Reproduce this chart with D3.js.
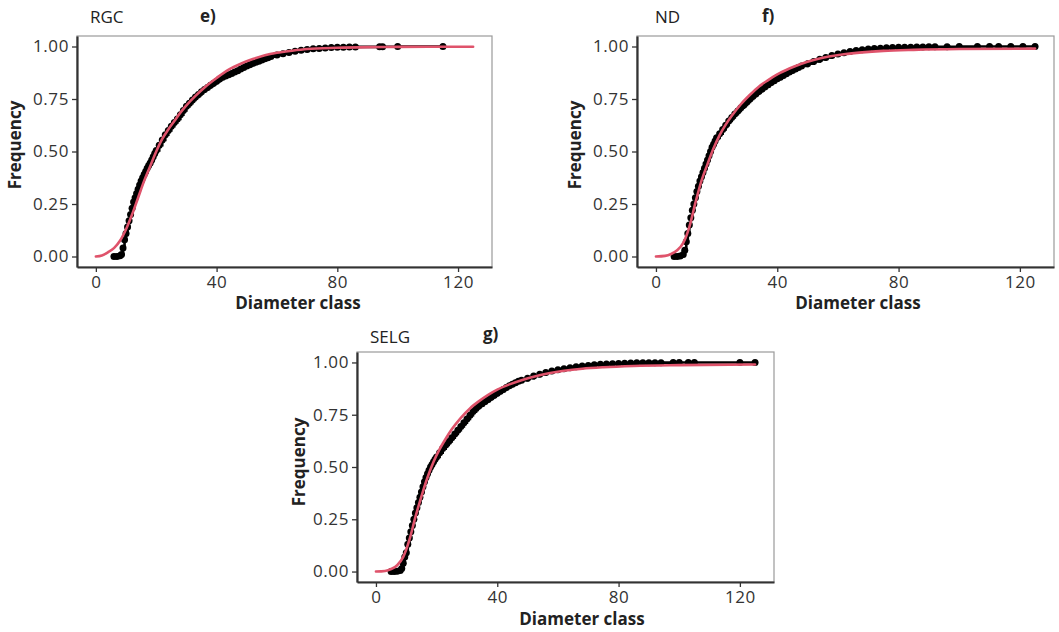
<!DOCTYPE html>
<html>
<head>
<meta charset="utf-8">
<script src="https://cdn.jsdelivr.net/npm/d3@7"></script>
<style>
  body { margin: 0; background: #fff; }
  svg { display: block; }
  text { font-family: "Open Sans", "DejaVu Sans", sans-serif; }
</style>
</head>
<body>
<div id="chart"></div>
<script>
// tick labels
var xTicks = [0, 40, 80, 120];
var yTicks = [0, 0.25, 0.5, 0.75, 1];

// e) RGC - empirical cumulative frequency
var diamE = [6, 7, 8, 8.5, 9, 9.5, 10, 10.5, 11, 11.5, 12, 12.5, 13, 13.5, 14, 14.5, 15, 15.5, 16, 16.5,
  17, 17.5, 18, 18.5, 19, 19.5, 20, 21, 22, 23, 24, 25, 26, 27, 28, 29, 30, 31, 32, 33, 34, 35, 36, 37,
  38, 39, 40, 41, 42, 43, 44, 45, 46, 47, 48, 49, 50, 51, 52, 53, 54, 55, 56, 57, 58, 60, 62, 64, 66, 68,
  70, 72, 74, 76, 78, 80, 82, 84, 86, 94, 95, 100, 115];
var freqE = [0, 0, 0.003, 0.01, 0.04, 0.08, 0.11, 0.14, 0.17, 0.2, 0.23, 0.26, 0.28, 0.3, 0.32, 0.34, 0.36, 0.375, 0.39, 0.405,
  0.42, 0.433, 0.445, 0.46, 0.475, 0.49, 0.505, 0.53, 0.555, 0.58, 0.6, 0.62, 0.638, 0.655, 0.675, 0.695, 0.715, 0.73, 0.745, 0.76, 0.772, 0.785, 0.795, 0.805,
  0.815, 0.825, 0.835, 0.845, 0.853, 0.86, 0.866, 0.872, 0.878, 0.885, 0.893, 0.9, 0.907, 0.913, 0.919, 0.925, 0.93, 0.936, 0.942, 0.947, 0.952, 0.96, 0.966, 0.972, 0.977, 0.982,
  0.986, 0.989, 0.991, 0.993, 0.995, 0.996, 0.997, 0.998, 0.998, 0.999, 0.999, 0.9995, 1];
// e) fitted curve
var fitDiamE = [0, 2, 4, 6, 8, 10, 12, 14, 16, 18, 20, 22, 24, 26, 28, 30, 33, 36, 40, 44, 48, 52, 56, 60, 65, 70, 80, 90, 100, 125];
var fitFreqE = [0, 0.005, 0.02, 0.04, 0.075, 0.13, 0.2, 0.28, 0.36, 0.43, 0.5, 0.56, 0.605, 0.645, 0.685, 0.72, 0.765, 0.805, 0.85, 0.89,
  0.918, 0.94, 0.958, 0.97, 0.98, 0.988, 0.994, 0.997, 0.998, 0.999];

// f) ND
var diamF = [6, 7, 8, 9, 9.5, 10, 10.5, 11, 11.5, 12, 12.5, 13, 13.5, 14, 14.5, 15, 15.5, 16, 16.5, 17, 17.5, 18, 18.5,
  19, 19.5, 20, 21, 22, 23, 24, 25, 26, 27, 28, 29, 30, 31, 32, 33, 34, 35, 36, 37, 38, 39, 40, 41, 42, 43, 44, 45, 46,
  47, 48, 50, 52, 54, 56, 58, 60, 62, 64, 66, 68, 70, 72, 74, 76, 78, 80, 82, 84, 86, 88, 90, 92, 96, 100, 106, 110,
  113, 117, 121, 125];
var freqF = [0, 0, 0.002, 0.01, 0.03, 0.07, 0.11, 0.15, 0.185, 0.22, 0.25, 0.28, 0.31, 0.335, 0.36, 0.38, 0.4, 0.42, 0.44, 0.46, 0.48, 0.5, 0.52,
  0.535, 0.55, 0.565, 0.585, 0.605, 0.625, 0.645, 0.662, 0.678, 0.693, 0.708, 0.722, 0.736, 0.75, 0.763, 0.775, 0.787, 0.798, 0.808, 0.818, 0.828, 0.837, 0.846, 0.854, 0.862, 0.87, 0.878, 0.886, 0.893,
  0.9, 0.907, 0.918, 0.929, 0.939, 0.948, 0.957, 0.964, 0.97, 0.976, 0.981, 0.985, 0.988, 0.99, 0.992, 0.994, 0.995, 0.996, 0.997, 0.997, 0.998, 0.998, 0.999, 0.999, 0.999, 0.9995, 1, 1,
  1, 1, 1, 1];
var fitDiamF = [0, 3, 5, 7, 9, 11, 13, 15, 17, 19, 21, 23, 25, 28, 31, 34, 37, 40, 44, 48, 52, 57, 62, 68, 75, 85, 100, 125];
var fitFreqF = [0, 0.003, 0.012, 0.03, 0.065, 0.14, 0.255, 0.36, 0.44, 0.515, 0.578, 0.628, 0.67, 0.725, 0.77, 0.81, 0.84, 0.867, 0.895,
  0.918, 0.936, 0.952, 0.963, 0.972, 0.979, 0.984, 0.988, 0.99];

// g) SELG
var diamG = [5, 6, 7, 8, 8.5, 9, 9.5, 10, 10.5, 11, 11.5, 12, 12.5, 13, 13.5, 14, 14.5, 15, 15.5, 16, 16.5, 17, 17.5, 18, 18.5,
  19, 19.5, 20, 21, 22, 23, 24, 25, 26, 27, 28, 29, 30, 31, 32, 33, 34, 35, 36, 37, 38, 39, 40, 41, 42, 43, 44, 45, 46,
  47, 48, 50, 52, 54, 56, 58, 60, 62, 64, 66, 68, 70, 72, 74, 76, 78, 80, 82, 84, 86, 88, 90, 92, 94, 98, 100, 103,
  105, 120, 125];
var freqG = [0, 0, 0.002, 0.005, 0.015, 0.04, 0.07, 0.09, 0.13, 0.16, 0.19, 0.22, 0.25, 0.28, 0.305, 0.33, 0.355, 0.38, 0.405, 0.43, 0.45, 0.468, 0.485, 0.5, 0.512,
  0.525, 0.537, 0.548, 0.568, 0.588, 0.605, 0.622, 0.64, 0.658, 0.676, 0.694, 0.712, 0.73, 0.748, 0.765, 0.78, 0.793, 0.803, 0.813, 0.823, 0.833, 0.843, 0.853, 0.862, 0.871, 0.88, 0.888, 0.896, 0.903,
  0.91, 0.915, 0.925, 0.935, 0.944, 0.952, 0.959, 0.965, 0.97, 0.975, 0.979, 0.983, 0.986, 0.989, 0.991, 0.993, 0.994, 0.995, 0.996, 0.997, 0.998, 0.998, 0.999, 0.999, 0.999, 0.9995, 0.9995, 1,
  1, 1, 1];
var fitDiamG = [0, 3, 5, 7, 9, 11, 13, 15, 17, 19, 21, 23, 25, 28, 31, 34, 37, 40, 44, 48, 52, 57, 62, 68, 75, 85, 100, 125];
var fitFreqG = [0, 0.003, 0.012, 0.03, 0.07, 0.15, 0.26, 0.36, 0.45, 0.525, 0.585, 0.635, 0.68, 0.735, 0.78, 0.815, 0.845, 0.87, 0.895,
  0.915, 0.932, 0.948, 0.96, 0.97, 0.977, 0.983, 0.987, 0.99];

var panels = [
  {site: "RGC", tag: "e)", left: 77, top: 36, right: 492, bottom: 267, siteX: 90, siteY: 23, tagX: 200, tagY: 22,
    xLabX: 298, xLabY: 309, yLabX: 21, yLabY: 145,
    diam: diamE, freq: freqE, fitDiam: fitDiamE, fitFreq: fitFreqE},
  {site: "ND", tag: "f)", left: 637, top: 36, right: 1054, bottom: 267, siteX: 655, siteY: 23, tagX: 762, tagY: 22,
    xLabX: 858, xLabY: 309, yLabX: 581, yLabY: 145,
    diam: diamF, freq: freqF, fitDiam: fitDiamF, fitFreq: fitFreqF},
  {site: "SELG", tag: "g)", left: 357, top: 352, right: 774, bottom: 582, siteX: 370, siteY: 343, tagX: 483, tagY: 340,
    xLabX: 582, xLabY: 625, yLabX: 305, yLabY: 462,
    diam: diamG, freq: freqG, fitDiam: fitDiamG, fitFreq: fitFreqG}
];

var svg = d3.select("#chart")
  .append("svg")
    .attr("width", 1059)
    .attr("height", 632);

panels.forEach(function (p) {
  var x = d3.scaleLinear()
    .domain([-6.25, 131.25])
    .range([p.left, p.right]);
  var y = d3.scaleLinear()
    .domain([-0.05, 1.05])
    .range([p.bottom, p.top]);

  var g = svg.append("g");

  // panel border (light) on top and right
  g.append("rect")
    .attr("x", p.left)
    .attr("y", p.top)
    .attr("width", p.right - p.left)
    .attr("height", p.bottom - p.top)
    .attr("fill", "none")
    .attr("stroke", "#9a9a9a")
    .attr("stroke-width", 1.2);

  // Add X axis
  var xAxis = g.append("g")
    .attr("transform", "translate(0," + p.bottom + ")")
    .call(d3.axisBottom(x).tickValues(xTicks).tickSize(5).tickSizeOuter(0).tickPadding(4));
  // Add Y axis
  var yAxis = g.append("g")
    .attr("transform", "translate(" + p.left + ",0)")
    .call(d3.axisLeft(y).tickValues(yTicks).tickSize(5).tickSizeOuter(0).tickPadding(3)
      .tickFormat(d3.format(".2f")));

  [xAxis, yAxis].forEach(function (a) {
    a.select(".domain").attr("stroke", "#333").attr("stroke-width", 2.2);
    a.selectAll(".tick line").attr("stroke", "#333").attr("stroke-width", 1.3);
    a.selectAll(".tick text")
      .attr("fill", "#333")
      .style("font-size", "17px")
      .style("letter-spacing", "0.6px")
      .style("font-family", "'Open Sans', sans-serif");
  });

  var pts = p.diam.map(function (d, i) { return [d, p.freq[i]]; });
  var fit = p.fitDiam.map(function (d, i) { return [d, p.fitFreq[i]]; });

  // ECDF step line
  g.append("path")
    .datum(pts)
    .attr("fill", "none")
    .attr("stroke", "#000")
    .attr("stroke-width", 2.6)
    .attr("d", d3.line()
      .x(function (d) { return x(d[0]); })
      .y(function (d) { return y(d[1]); })
      .curve(d3.curveStepAfter));

  // ECDF points
  g.selectAll(null)
    .data(pts)
    .enter()
    .append("circle")
      .attr("cx", function (d) { return x(d[0]); })
      .attr("cy", function (d) { return y(d[1]); })
      .attr("r", 3.5)
      .attr("fill", "#000");

  // fitted curve
  g.append("path")
    .datum(fit)
    .attr("fill", "none")
    .attr("stroke", "#DF536B")
    .attr("stroke-width", 2.6)
    .attr("stroke-linecap", "round")
    .attr("d", d3.line()
      .x(function (d) { return x(d[0]); })
      .y(function (d) { return y(d[1]); })
      .curve(d3.curveMonotoneX));

  // site name and panel tag
  g.append("text")
    .attr("x", p.siteX)
    .attr("y", p.siteY)
    .attr("fill", "#222")
    .style("font-size", "17px")
    .text(p.site);
  g.append("text")
    .attr("x", p.tagX)
    .attr("y", p.tagY)
    .attr("fill", "#222")
    .attr("font-weight", 700)
    .style("font-size", "17px")
    .text(p.tag);

  // text label for the x axis
  g.append("text")
    .attr("x", p.xLabX)
    .attr("y", p.xLabY)
    .style("text-anchor", "middle")
    .attr("font-weight", 700)
    .attr("fill", "#222")
    .style("font-size", "17px")
    .text("Diameter class");

  // text label for the y axis
  g.append("text")
    .attr("transform", "translate(" + p.yLabX + "," + p.yLabY + ") rotate(-90)")
    .style("text-anchor", "middle")
    .attr("font-weight", 700)
    .attr("fill", "#222")
    .style("font-size", "17px")
    .text("Frequency");
});
</script>
</body>
</html>
